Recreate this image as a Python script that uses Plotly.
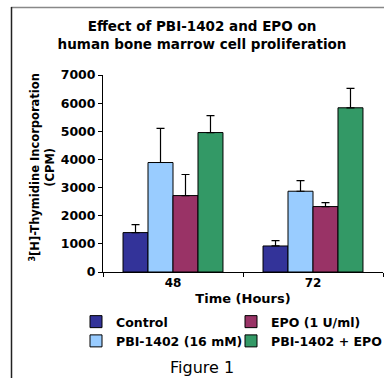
import plotly.graph_objects as go

# ---- data ----
times = ["48", "72"]
series_names = ["Control", "PBI-1402 (16 mM)", "EPO (1 U/ml)", "PBI-1402 + EPO"]
control = [1400, 925]
control_err = [280, 190]
pbi = [3890, 2870]
pbi_err = [1210, 380]
epo = [2715, 2325]
epo_err = [750, 140]
combo = [4955, 5835]
combo_err = [600, 690]
y_ticks = [0, 1000, 2000, 3000, 4000, 5000, 6000, 7000]

colors = ["#333399", "#99CCFF", "#993366", "#339966"]
ranks = [1, 3, 2, 4]

W, H = 384, 378
L, R, T, B = 103, 1, 75, 106
PW, PH = W - L - R, H - T - B

def px_x(px):
    return (px - L) / PW

def px_y(py):
    return (H - B - py) / PH

FONT = "DejaVu Sans"

fig = go.Figure()
for name, vals, errs, col, rk in zip(series_names, [control, pbi, epo, combo],
                                     [control_err, pbi_err, epo_err, combo_err],
                                     colors, ranks):
    fig.add_trace(go.Bar(
        x=times, y=vals, name="<b>%s</b>" % name, legendrank=rk,
        marker=dict(color=col, line=dict(color="#000000", width=1)),
        error_y=dict(type="data", array=errs, arrayminus=[0] * len(errs),
                     symmetric=False, color="#000000", thickness=1.2, width=4),
    ))

fig.update_layout(
    width=W, height=H,
    margin=dict(l=L, r=R, t=T, b=B, autoexpand=False),
    paper_bgcolor="white", plot_bgcolor="white",
    barmode="group", bargap=0.286, bargroupgap=0,
    font=dict(family=FONT, color="#000000"),
    title=dict(text="<b>Effect of PBI-1402 and EPO on<br>human bone marrow cell proliferation</b>",
               x=202 / W, xanchor="center", xref="container",
               y=1 - 31 / H, yanchor="middle", yref="container",
               font=dict(family=FONT, size=13.5, color="#000000")),
    xaxis=dict(showline=True, linecolor="#000000", linewidth=1,
               ticks="outside", ticklen=4, tickcolor="#000000", tickson="boundaries",
               tickvals=times, ticktext=["<b>%s</b>" % t for t in times],
               tickfont=dict(family=FONT, size=12, color="#000000"),
               showgrid=False, range=[-0.5, 1.5],
               title=dict(text="<b>Time (Hours)</b>", standoff=4,
                          font=dict(family=FONT, size=13, color="#000000"))),
    yaxis=dict(showline=True, linecolor="#000000", linewidth=1,
               ticks="outside", ticklen=4, tickcolor="#000000",
               tickvals=y_ticks, ticktext=["<b>%d</b>" % v for v in y_ticks],
               tickfont=dict(family=FONT, size=12.5, color="#000000"),
               showgrid=False, zeroline=False, range=[0, 7000]),
    legend=dict(orientation="h", x=px_x(76), xanchor="left", y=px_y(307), yanchor="top",
                entrywidth=110, entrywidthmode="pixels",
                font=dict(family=FONT, size=12.5, color="#000000"),
                bgcolor="rgba(0,0,0,0)", traceorder="normal"),
    showlegend=True,
)

# y-axis title
fig.add_annotation(text="<b><sup>3</sup>[H]-Thymidine Incorporation<br>(CPM)</b>",
                   xref="paper", yref="paper", x=px_x(42.5), y=px_y(168),
                   xanchor="center", yanchor="middle", textangle=-90, showarrow=False,
                   font=dict(family=FONT, size=11.5, color="#000000"))
# caption
fig.add_annotation(text="Figure 1", xref="paper", yref="paper",
                   x=px_x(202), y=px_y(367), xanchor="center", yanchor="middle",
                   showarrow=False, font=dict(family=FONT, size=16, color="#000000"))

# frame lines
fig.add_shape(type="line", xref="paper", yref="paper",
              x0=px_x(11), x1=px_x(W), y0=px_y(7.5), y1=px_y(7.5),
              line=dict(color="#888888", width=1.5), layer="above")
fig.add_shape(type="line", xref="paper", yref="paper",
              x0=px_x(11.5), x1=px_x(11.5), y0=px_y(7), y1=px_y(H),
              line=dict(color="#222222", width=1.5), layer="above")

fig.write_html("out.html", config={"displayModeBar": False},
               post_script="document.body.style.margin='0';document.body.style.overflow='hidden';")
